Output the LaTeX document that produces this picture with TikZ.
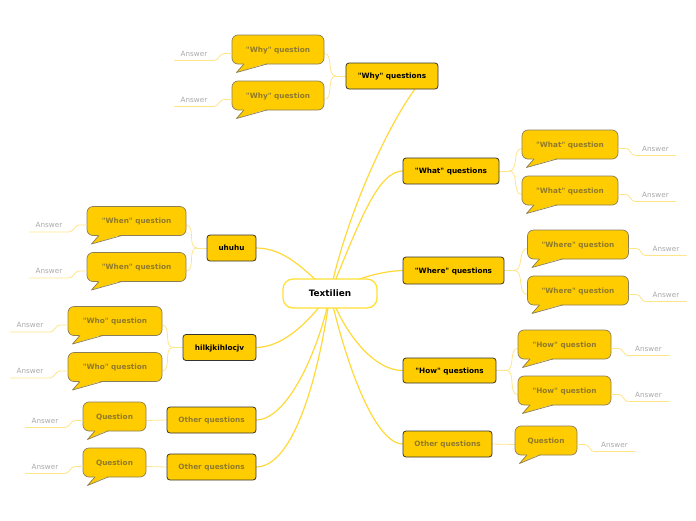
\documentclass[tikz,border=0pt]{standalone}
\usepackage{fontspec}
\setmainfont{DejaVu Sans}[Ligatures=TeXOff]
\usetikzlibrary{calc}
\pgfdeclarelayer{bg}
\pgfsetlayers{bg,main}
\definecolor{yel}{HTML}{FFCC00}
\definecolor{mainborder}{HTML}{333333}
\definecolor{bborder}{HTML}{8A7E5A}
\definecolor{btext}{HTML}{8F7A2B}
\definecolor{anstext}{HTML}{A8A8A8}
\definecolor{linecol}{HTML}{FFD93A}
\definecolor{sublinecol}{HTML}{FFE58A}
\definecolor{ctrborder}{HTML}{FFE033}
\tikzset{
  mainbox/.style={draw=mainborder, fill=yel, rounded corners=3pt, line width=0.8pt,
    font=\bfseries\fontsize{7.3}{8}\selectfont, inner sep=0pt, outer sep=0pt,
    text height=5.3pt, text depth=0pt},
  otherbox/.style={mainbox, text=btext},
  bubblebox/.style={draw=bborder, fill=yel, rounded corners=6pt, line width=0.7pt,
    text=btext, font=\bfseries\fontsize{7.3}{8}\selectfont, inner sep=0pt, outer sep=0pt,
    text height=5.3pt, text depth=0pt},
  bubbleline/.style={draw=bborder, line width=0.7pt, line join=round},
  centerbox/.style={draw=ctrborder, fill=white, rounded corners=10pt, line width=1.3pt,
    font=\bfseries\fontsize{8.9}{10}\selectfont, inner sep=0pt, outer sep=0pt,
    minimum width=94pt, minimum height=29pt, text height=6.5pt, text depth=0pt},
  ans/.style={text=anstext, font=\fontsize{7.2}{8}\selectfont, inner sep=0pt},
  mainline/.style={draw=linecol, line width=1.2pt},
  subline/.style={draw=sublinecol, line width=0.8pt},
}
% name, cx, cy, width, height, text, tail right base offset
\newcommand\qbubble[7]{%
  \node[bubblebox, minimum width=#4pt, minimum height=#5pt] (#1) at (#2,#3) {#6};
  \fill[yel] ([xshift=12pt,yshift=0.8pt]#1.south west) -- ([xshift=4.5pt,yshift=-8.5pt]#1.south west)
     -- ([xshift=#7pt,yshift=0.8pt]#1.south west) -- cycle;
  \draw[bubbleline] ([xshift=12pt]#1.south west) -- ([xshift=4.5pt,yshift=-8.5pt]#1.south west)
     -- ([xshift=#7pt]#1.south west);
}
% answer to the left of bubble: name, bubble
\newcommand\ansleft[2]{%
  \draw[subline] ([yshift=-4pt]#2.west) -- ++(-8,0) to[out=180,in=0] ++(-10,7)
     -- ++(-40,0) node[ans, midway, yshift=7pt] (#1) {Answer};
}
\newcommand\ansright[2]{%
  \draw[subline] ([yshift=-4pt]#2.east) -- ++(8,0) to[out=0,in=180] ++(9,7)
     -- ++(41,0) node[ans, midway, yshift=7pt] (#1) {Answer};
}
\begin{document}
\begin{tikzpicture}[x=1pt,y=-1pt]
\useasboundingbox (0,0) rectangle (696,520);

% central node
\node[centerbox] (ctr) at (330,293.5) {Textilien};

% main nodes
\node[mainbox, minimum width=92pt, minimum height=26pt] (why) at (392,76) {"Why" questions};
\node[mainbox, minimum width=96pt, minimum height=26pt] (what) at (451,171) {"What" questions};
\node[mainbox, minimum width=101pt, minimum height=27pt] (where) at (453.5,270.5) {"Where" questions};
\node[mainbox, minimum width=93pt, minimum height=25pt] (how) at (449.5,370.5) {"How" questions};
\node[otherbox, minimum width=89pt, minimum height=26pt] (otr) at (447.5,444) {Other questions};
\node[mainbox, minimum width=49pt, minimum height=26pt] (uhu) at (231.5,248) {uhuhu};
\node[mainbox, minimum width=73pt, minimum height=26pt] (hilk) at (219.5,347.5) {hilkjkihlocjv};
\node[otherbox, minimum width=89pt, minimum height=26pt] (ol1) at (211.5,420) {Other questions};
\node[otherbox, minimum width=89pt, minimum height=26pt] (ol2) at (211.5,467) {Other questions};

% bubbles
\qbubble{wy1}{278}{49.5}{92}{29}{"Why" question}{35}
\qbubble{wy2}{278}{95.5}{92}{29}{"Why" question}{35}
\qbubble{wt1}{570}{144.5}{96}{29}{"What" question}{35}
\qbubble{wt2}{570}{190.5}{96}{29}{"What" question}{35}
\qbubble{wr1}{578}{244.5}{101}{29}{"Where" question}{35}
\qbubble{wr2}{578}{290.5}{101}{29}{"Where" question}{35}
\qbubble{hw1}{564.5}{344.5}{93}{29}{"How" question}{35}
\qbubble{hw2}{564.5}{390.5}{93}{29}{"How" question}{35}
\qbubble{qr}{546}{440.5}{62}{29}{Question}{25}
\qbubble{wn1}{136.5}{221}{99}{29}{"When" question}{35}
\qbubble{wn2}{136.5}{267}{99}{29}{"When" question}{35}
\qbubble{wo1}{115}{321}{94}{29}{"Who" question}{35}
\qbubble{wo2}{115}{367}{94}{29}{"Who" question}{35}
\qbubble{ql1}{114.5}{416.5}{63}{29}{Question}{25}
\qbubble{ql2}{114.5}{462.5}{63}{29}{Question}{25}

\begin{pgfonlayer}{bg}
  % main connectors
  \draw[mainline] (ctr.center) .. controls (345,220) and (385,130) .. ($(why.south)+(23,0)$);
  \draw[mainline] (ctr.center) .. controls (360,220) and (378,171) .. (what.west);
  \draw[mainline] (ctr.center) .. controls (350,280) and (380,271) .. (where.west);
  \draw[mainline] (ctr.center) .. controls (345,335) and (375,371) .. (how.west);
  \draw[mainline] (ctr.center) .. controls (350,380) and (378,444) .. (otr.west);
  \draw[mainline] (ctr.center) .. controls (305,270) and (285,248) .. (uhu.east);
  \draw[mainline] (ctr.center) .. controls (310,320) and (285,347) .. (hilk.east);
  \draw[mainline] (ctr.center) .. controls (322,340) and (290,420) .. (ol1.east);
  \draw[mainline] (ctr.center) .. controls (320,370) and (295,467) .. (ol2.east);

  % sub connectors
  \draw[subline] (why.west) -- ++(-10,0) coordinate (jwhy);
  \draw[subline] (jwhy) to[out=180,in=0] ([yshift=-4pt]wy1.east);
  \draw[subline] (jwhy) to[out=180,in=0] ([yshift=-4pt]wy2.east);
  \draw[subline] (what.east) -- ++(10,0) coordinate (jwhat);
  \draw[subline] (jwhat) to[out=0,in=180] ([yshift=-4pt]wt1.west);
  \draw[subline] (jwhat) to[out=0,in=180] ([yshift=-4pt]wt2.west);
  \draw[subline] (where.east) -- ++(10,0) coordinate (jwhere);
  \draw[subline] (jwhere) to[out=0,in=180] ([yshift=-4pt]wr1.west);
  \draw[subline] (jwhere) to[out=0,in=180] ([yshift=-4pt]wr2.west);
  \draw[subline] (how.east) -- ++(10,0) coordinate (jhow);
  \draw[subline] (jhow) to[out=0,in=180] ([yshift=-4pt]hw1.west);
  \draw[subline] (jhow) to[out=0,in=180] ([yshift=-4pt]hw2.west);
  \draw[subline] (otr.east) -- ([yshift=-4pt]qr.west);
  \draw[subline] (uhu.west) -- ++(-10,0) coordinate (juhu);
  \draw[subline] (juhu) to[out=180,in=0] ([yshift=-4pt]wn1.east);
  \draw[subline] (juhu) to[out=180,in=0] ([yshift=-4pt]wn2.east);
  \draw[subline] (hilk.west) -- ++(-10,0) coordinate (jhilk);
  \draw[subline] (jhilk) to[out=180,in=0] ([yshift=-4pt]wo1.east);
  \draw[subline] (jhilk) to[out=180,in=0] ([yshift=-4pt]wo2.east);
  \draw[subline] (ol1.west) -- ([yshift=-4pt]ql1.east);
  \draw[subline] (ol2.west) -- ([yshift=-4pt]ql2.east);
\end{pgfonlayer}

% answers
\ansleft{awy1}{wy1}
\ansleft{awy2}{wy2}
\ansleft{awn1}{wn1}
\ansleft{awn2}{wn2}
\ansleft{awo1}{wo1}
\ansleft{awo2}{wo2}
\ansleft{aql1}{ql1}
\ansleft{aql2}{ql2}
\ansright{awt1}{wt1}
\ansright{awt2}{wt2}
\ansright{awr1}{wr1}
\ansright{awr2}{wr2}
\ansright{ahw1}{hw1}
\ansright{ahw2}{hw2}
\ansright{aqr}{qr}
\end{tikzpicture}
\end{document}
